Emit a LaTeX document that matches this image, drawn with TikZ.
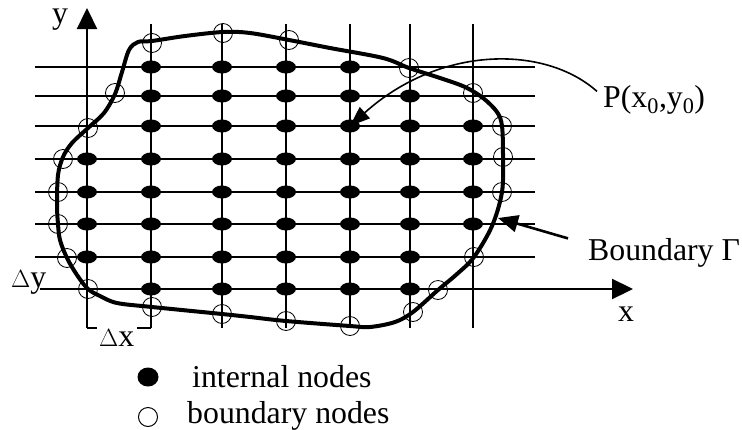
\documentclass[tikz,border=0pt]{standalone}
\usepackage{fontspec}
\setmainfont{Liberation Serif}
\usetikzlibrary{shapes.geometric,arrows.meta}
\tikzset{
  gridline/.style={line width=2.3pt},
  axisline/.style={line width=2.3pt,-{Triangle[length=21pt,width=20pt]}},
  bndcurve/.style={line width=4pt,line join=round},
  inn/.style={ellipse,fill=black,minimum width=20pt,minimum height=13pt,inner sep=0},
  bnd/.style={circle,draw,line width=0.8pt,minimum size=19pt,inner sep=0},
  lbl/.style={font=\fontsize{31.8}{38}\selectfont,inner sep=0},
  callout/.style={line width=1.6pt,-{Triangle[length=20pt,width=15pt]}},
  callthick/.style={line width=2.6pt,-{Triangle[length=20pt,width=17pt]}}
}
\begin{document}
\begin{tikzpicture}[x=1pt,y=-1pt]
\useasboundingbox (0,0) rectangle (742,429);
% grid
\foreach \yy in {67,96,126,159,192,224,257}
  \draw[gridline] (35,\yy) -- (535,\yy);
\foreach \xx in {151,222,286,350,410,473}
  \draw[gridline] (\xx,24) -- (\xx,328);
% axes
\coordinate (xs) at (40,289);
\coordinate (xe) at (633,289);
\coordinate (ys) at (87,328);
\coordinate (ye) at (87,8);
\draw[axisline] (xs) -- (xe);
\draw[axisline] (ys) -- (ye);
% bracket for Delta x
\coordinate (bl) at (87,328);
\coordinate (br) at (151,328);
\draw[gridline] (bl) -- ++(10,0);
\draw[gridline] (br) -- ++(-14,0);
% boundary curve
\draw[bndcurve] plot[smooth cycle,tension=0.55] coordinates {
 (57,205) (58,175) (63,157) (72,143) (88,128) (104,113) (115,94) (122,72)
 (129,50) (138,42) (152,41) (185,36) (223,32) (250,33) (289,40) (330,48)
 (383,58) (409,68) (440,78) (465,87) (483,98) (497,112) (502,126) (503,157)
 (502,192) (492,226) (474,257) (457,274) (438,290) (413,312) (395,322)
 (370,327) (350,326) (286,321) (250,317) (222,314) (152,307) (117,303)
 (100,296) (88,289) (77,275) (67,258) (60,240) (58,224)};
% internal nodes
\foreach \yy/\a/\b [count=\r] in {67/1/4,96/1/5,126/1/6,159/0/6,192/0/6,224/0/6,257/0/5,289/1/5}{
  \foreach \c in {\a,...,\b}{
    \pgfmathsetmacro\xx{{87,151,222,286,350,410,473}[\c]}
    \node[inn] (d\r-\c) at (\xx,\yy) {};
  }
}
% boundary nodes
\foreach \p [count=\k] in {(152,43),(223,33),(289,40),(409,68),(473,93),(502,126),(503,157),(502,192),(474,257),(438,290),(413,312),(350,326),(286,321),(222,314),(152,307),(88,289),(67,258),(58,224),(58,192),(63,159),(88,128),(115,93)}
  \node[bnd] (b\k) at \p {};
% labels
\node[lbl,anchor=base,text height=14pt] (ylab) at (60,23) {y};
\node[lbl,anchor=base] (xlab) at (626,321) {x};
\node[lbl,anchor=base west] (dy) at (11,287) {$\Delta$y};
\node[lbl,anchor=base west] (dx) at (99,346) {$\Delta$x};
\node[lbl,anchor=base west] (P) at (603,107) {P(x\textsubscript{0},y\textsubscript{0})};
\node[lbl,anchor=base west] (G) at (588,260) {Boundary Γ};
% callouts
\coordinate (gtip) at (498,218);
\draw[callout] ([xshift=-6pt,yshift=8pt]P.west) .. controls (545,45) and (440,45) .. (d3-4.center);
\draw[callthick] ([xshift=-20pt,yshift=14pt]G.west) -- (gtip);
% legend
\node[ellipse,fill=black,minimum width=21pt,minimum height=19pt,inner sep=0] (lgi) at (148,377) {};
\node[bnd,line width=1pt] (lgb) at (148,417) {};
\node[lbl,anchor=base west] (lti) at (192,387) {internal nodes};
\node[lbl,anchor=base west] (ltb) at (187,423) {boundary nodes};
\end{tikzpicture}
\end{document}
